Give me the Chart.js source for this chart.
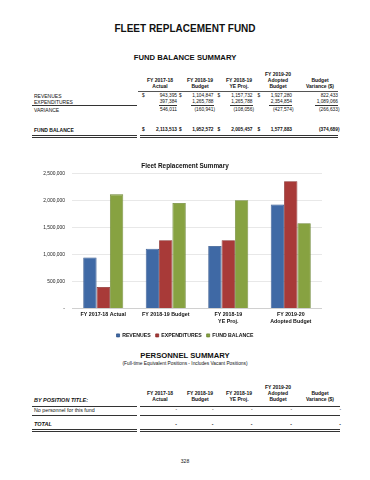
<!DOCTYPE html>
<html>
<head>
<meta charset="utf-8">
<script src="https://cdn.jsdelivr.net/npm/chart.js@4.4.0/dist/chart.umd.min.js"></script>
<style>
  html, body { margin: 0; padding: 0; background: #fff; }
  body { width: 370px; height: 480px; position: relative; overflow: hidden; font-family: "Liberation Sans", Arial, sans-serif; color: #111; }
  .t { position: absolute; white-space: nowrap; }
  .ln { position: absolute; height: 0; }
  #chartBox { position: absolute; left: 0; top: 155px; width: 370px; height: 193px; }
</style>
</head>
<body>
<div id="chartBox"><canvas id="myChart"></canvas></div>
<script>
// chart data
const categories = [['FY 2017-18 Actual'], ['FY 2018-19 Budget'], ['FY 2018-19', 'YE Proj.'], ['FY 2019-20', 'Adopted Budget']];
const revenues = [943395, 1104847, 1157732, 1927280];
const expenditures = [397384, 1265788, 1265788, 2354854];
const fundBalance = [2113513, 1952572, 2005457, 1577883];
const yTicks = [0, 500000, 1000000, 1500000, 2000000, 2500000];

// table data
const tableHeaders = [['FY 2017-18', 'Actual'], ['FY 2018-19', 'Budget'], ['FY 2018-19', 'YE Proj.'], ['FY 2019-20', 'Adopted', 'Budget'], ['Budget', 'Variance ($)']];
const variance = [546011, -160941, -108056, -427574];
const budgetVariance = [822433, 1089066, -266633, -374689]; // revenues, expenditures, variance, fund balance
const personnelRows = ['No personnel for this fund'];

// layout of the printed page
const colCenter = [160, 200, 239, 278, 320];
const colRight = [177, 213.5, 252.5, 292, 338];
const colDollar = [142, 179, 217.5, 257.5];

const page = document.body;

function text(str, x, y, size, align, extra) {
    const d = document.createElement('div');
    d.className = 't';
    d.textContent = str;
    d.style.fontSize = size + 'px';
    d.style.lineHeight = size + 'px';
    d.style.top = (y - size / 2) + 'px';
    if (align === 'center') {
        d.style.left = x + 'px';
        d.style.transform = 'translateX(-50%)';
    } else if (align === 'right') {
        d.style.right = (370 - x) + 'px';
    } else {
        d.style.left = x + 'px';
    }
    if (extra) d.style.cssText += extra;
    page.appendChild(d);
}

function line(x1, x2, y, w, color) {
    const d = document.createElement('div');
    d.className = 'ln';
    d.style.left = x1 + 'px';
    d.style.width = (x2 - x1) + 'px';
    d.style.top = y + 'px';
    d.style.borderTop = (w || 1) + 'px solid ' + (color || '#444');
    page.appendChild(d);
}

function fmt(n) {
    const s = Math.abs(n).toLocaleString('en-US');
    return n < 0 ? '(' + s + ')' : s;
}

function numCell(n, col, y, size, extra) {
    const x = colRight[col] + (n < 0 ? 1.5 : 0);
    text(fmt(n), x, y, size, 'right', extra);
}

function headerBlock(top) {
    tableHeaders.forEach((lines, i) => {
        const start = top + (3 - lines.length) * 6;
        lines.forEach((l, j) => text(l, colCenter[i], start + j * 6, 5, 'center', 'font-weight:bold;'));
    });
}

// titles
text('FLEET REPLACEMENT FUND', 185, 28.5, 10, 'center', 'font-weight:bold;');
text('FUND BALANCE SUMMARY', 185, 57.5, 7.7, 'center', 'font-weight:bold;');

// fund balance table
headerBlock(74.5);
line(138, 338, 90.5, 1, '#555');

const rowY = [96, 102.3, 110];
text('REVENUES', 34, rowY[0], 5, 'left');
text('EXPENDITURES', 34, rowY[1], 5, 'left');
text('VARIANCE', 34, rowY[2], 5, 'left');
colDollar.forEach(x => text('$', x, rowY[0], 4.8, 'left'));
for (let i = 0; i < 4; i++) {
    numCell(revenues[i], i, rowY[0], 4.8);
    numCell(expenditures[i], i, rowY[1], 4.8);
    numCell(variance[i], i, rowY[2], 4.8);
}
numCell(budgetVariance[0], 4, rowY[0], 4.8);
numCell(budgetVariance[1], 4, rowY[1], 4.8);
numCell(budgetVariance[2], 4, rowY[2], 4.8);
line(32, 137, 105.3, 0.8, '#333');
[[159, 177], [191, 214], [230, 253], [269, 292], [315, 338]].forEach(s => line(s[0], s[1], 105, 0.6, '#333'));

text('FUND BALANCE', 34, 130.5, 5, 'left', 'font-weight:bold;');
colDollar.forEach(x => text('$', x, 130.5, 4.8, 'left', 'font-weight:bold;'));
for (let i = 0; i < 4; i++) numCell(fundBalance[i], i, 130.5, 4.8, 'font-weight:bold;');
numCell(budgetVariance[3], 4, 130.5, 4.8, 'font-weight:bold;');
[[32, 137], [140, 338]].forEach(s => {
    line(s[0], s[1], 134.5, 0.8, '#333');
    line(s[0], s[1], 136.5, 0.8, '#333');
});

// personnel summary
text('PERSONNEL SUMMARY', 185, 356, 7.7, 'center', 'font-weight:bold;');
text('(Full-time Equivalent Positions - Includes Vacant Positions)', 185, 364.5, 4.8, 'center');
headerBlock(387);
text('BY POSITION TITLE:', 34, 400.5, 5.5, 'left', 'font-weight:bold;font-style:italic;');
line(32, 137, 405.5, 0.8, '#333');
line(140, 340, 405.5, 0.8, '#333');
personnelRows.forEach((r, k) => {
    const y = 410.5 + k * 6;
    text(r, 34, y, 5.3, 'left');
    colRight.forEach((x, i) => text('-', x + (i === 4 ? 3 : 0), y, 4.8, 'right'));
});
line(32, 137, 415, 0.8, '#333');
line(140, 340, 415, 0.8, '#333');
text('TOTAL', 34, 424.5, 5.5, 'left', 'font-weight:bold;font-style:italic;');
colRight.forEach((x, i) => text('-', x + (i === 4 ? 3 : 0), 424.5, 5, 'right', 'font-weight:bold;'));
[[32, 137], [140, 340]].forEach(s => {
    line(s[0], s[1], 428.5, 0.8, '#333');
    line(s[0], s[1], 430.5, 0.8, '#333');
});

text('328', 185, 461.5, 5, 'center');

// chart
const family = '"Liberation Sans", Arial, sans-serif';
Chart.defaults.font.family = family;

const ctx = document.getElementById('myChart').getContext('2d');
const myChart = new Chart(ctx, {
    type: 'bar',
    data: {
        labels: categories,
        datasets: [{
            label: 'REVENUES',
            data: revenues,
            backgroundColor: '#3f69a5',
            borderColor: '#2d5088',
            borderWidth: 0.8
        }, {
            label: 'EXPENDITURES',
            data: expenditures,
            backgroundColor: '#a83a38',
            borderColor: '#862826',
            borderWidth: 0.8
        }, {
            label: 'FUND BALANCE',
            data: fundBalance,
            backgroundColor: '#87a241',
            borderColor: '#6a8430',
            borderWidth: 0.8
        }]
    },
    options: {
        responsive: true,
        maintainAspectRatio: false,
        animation: false,
        layout: {
            padding: { left: 0, right: 0, top: 0, bottom: 0 }
        },
        datasets: {
            bar: { categoryPercentage: 0.64, barPercentage: 1 }
        },
        scales: {
            x: {
                grid: { display: false, drawTicks: false },
                border: { display: false },
                ticks: {
                    color: '#111',
                    padding: 3.3,
                    maxRotation: 0,
                    autoSkip: false,
                    font: { size: 5.3, weight: 'bold' }
                }
            },
            y: {
                min: yTicks[0],
                max: yTicks[yTicks.length - 1],
                afterFit: function (scale) { scale.width = 72; },
                afterBuildTicks: function (scale) { scale.ticks = yTicks.map(v => ({ value: v })); },
                grid: {
                    drawTicks: false,
                    lineWidth: 0.8,
                    color: c => (c.tick && c.tick.value === 0) ? '#c4c4c4' : '#e2e2e2'
                },
                border: { display: false },
                ticks: {
                    color: '#222',
                    padding: 7,
                    font: { size: 4.9 },
                    callback: v => v === 0 ? '-' : v.toLocaleString('en-US')
                }
            },
            // empty right-hand axis, only reserves the white margin right of the plot
            spacer: {
                type: 'linear',
                position: 'right',
                min: 0,
                max: 1,
                afterFit: function (scale) { scale.width = 48; },
                grid: { display: false, drawTicks: false },
                border: { display: false },
                ticks: { display: false }
            }
        },
        plugins: {
            title: {
                display: true,
                text: 'Fleet Replacement Summary',
                color: '#111',
                font: { size: 6.4, weight: 'bold' },
                padding: { top: 7.2, bottom: 3.6 }
            },
            legend: {
                position: 'bottom',
                labels: {
                    boxWidth: 3,
                    boxHeight: 3,
                    padding: 5,
                    color: '#111',
                    font: { size: 5.2, weight: 'bold' }
                }
            },
            tooltip: { enabled: false }
        }
    }
});
</script>
</body>
</html>
